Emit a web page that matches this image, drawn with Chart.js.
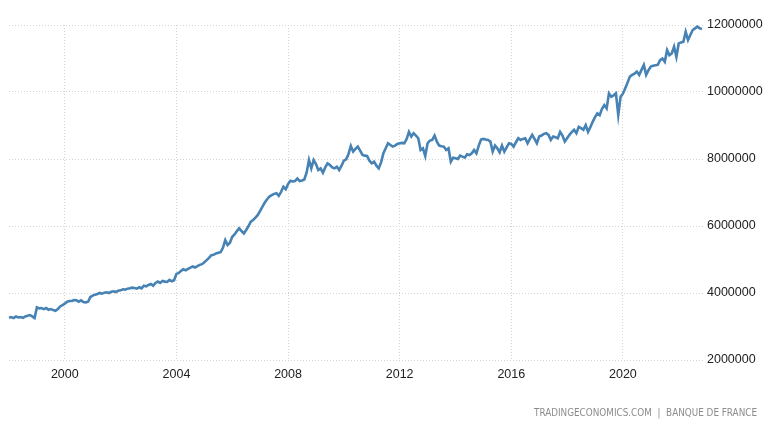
<!DOCTYPE html>
<html><head><meta charset="utf-8">
<script src="https://cdn.jsdelivr.net/npm/chart.js@4"></script>
<style>html,body{margin:0;padding:0;background:#fff}#wrap{width:768px;height:432px;position:relative}</style>
</head><body><div id="wrap"><canvas id="c" width="768" height="432"></canvas></div>
<script>
// Monthly values in millions, starting January 1998
const startYear = 1998;
const v1998 = [3.26,3.28,3.25,3.30,3.27,3.28,3.26,3.30,3.32,3.34,3.30,3.25];
const v1999 = [3.57,3.54,3.55,3.52,3.55,3.50,3.52,3.49,3.47,3.52,3.60,3.64];
const v2000 = [3.68,3.74,3.76,3.76,3.79,3.78,3.74,3.78,3.73,3.72,3.74,3.88];
const v2001 = [3.92,3.95,3.97,4.00,3.98,4.01,4.02,4.00,4.04,4.05,4.03,4.07];
const v2002 = [4.08,4.11,4.10,4.13,4.14,4.16,4.15,4.13,4.17,4.14,4.22,4.20];
const v2003 = [4.24,4.27,4.22,4.30,4.34,4.30,4.36,4.34,4.33,4.39,4.35,4.38];
const v2004 = [4.57,4.60,4.66,4.71,4.68,4.72,4.76,4.79,4.76,4.80,4.84,4.86];
const v2005 = [4.92,4.98,5.05,5.13,5.14,5.18,5.20,5.22,5.35,5.58,5.43,5.50];
const v2006 = [5.68,5.75,5.85,5.93,5.85,5.78,5.88,6.00,6.13,6.18,6.25,6.33];
const v2007 = [6.45,6.58,6.70,6.80,6.88,6.92,6.96,6.98,6.90,7.02,7.17,7.10];
const v2008 = [7.25,7.35,7.33,7.34,7.42,7.34,7.36,7.39,7.60,7.97,7.72,7.97];
const v2009 = [7.85,7.67,7.72,7.59,7.75,7.87,7.82,7.75,7.72,7.77,7.67,7.80];
const v2010 = [7.95,7.99,8.15,8.39,8.22,8.30,8.37,8.25,8.12,8.10,8.09,7.95];
const v2011 = [7.87,7.92,7.80,7.72,7.90,8.17,8.32,8.47,8.42,8.37,8.40,8.45];
const v2012 = [8.47,8.48,8.47,8.60,8.81,8.67,8.77,8.70,8.62,8.27,8.32,8.09];
const v2013 = [8.47,8.55,8.57,8.70,8.52,8.40,8.38,8.37,8.27,8.32,7.92,8.04];
const v2014 = [8.02,8.00,8.10,8.07,8.04,8.14,8.12,8.17,8.27,8.17,8.40,8.58];
const v2015 = [8.60,8.58,8.57,8.52,8.22,8.40,8.32,8.20,8.40,8.22,8.35,8.47];
const v2016 = [8.45,8.37,8.50,8.62,8.57,8.60,8.62,8.47,8.60,8.72,8.60,8.47];
const v2017 = [8.67,8.70,8.75,8.77,8.72,8.57,8.67,8.65,8.62,8.81,8.70,8.52];
const v2018 = [8.62,8.72,8.80,8.87,8.77,8.96,8.92,8.87,9.01,8.81,8.95,9.11];
const v2019 = [9.25,9.36,9.31,9.50,9.61,9.51,9.96,9.86,9.90,9.96,9.31,9.86];
const v2020 = [9.95,10.11,10.28,10.46,10.51,10.55,10.61,10.51,10.66,10.81,10.51,10.65];
const v2021 = [10.76,10.78,10.80,10.81,10.95,11.00,10.90,11.25,11.10,11.15,11.35,11.05];
const v2022 = [11.45,11.48,11.50,11.80,11.55,11.70,11.85,11.90,11.95,11.90,11.88];

const yearly = [v1998,v1999,v2000,v2001,v2002,v2003,v2004,v2005,v2006,v2007,v2008,v2009,v2010,
  v2011,v2012,v2013,v2014,v2015,v2016,v2017,v2018,v2019,v2020,v2021,v2022];

const xTicks = [2000, 2004, 2008, 2012, 2016, 2020];
const yTicks = [2, 4, 6, 8, 10, 12];
const yTickLabels = ['2000000','4000000','6000000','8000000','10000000','12000000'];
const sourceText = 'TRADINGECONOMICS.COM  |  BANQUE DE FRANCE';

const points = [];
yearly.forEach((arr, yi) => arr.forEach((v, m) => points.push({x: startYear + yi + m / 12, y: v})));

// font selection: prefer a narrow face; size chosen so "12000000" is ~55px wide
const probe = document.createElement('canvas').getContext('2d');
function hasFont(f) {
  const s = 'mmmmmWWWiii1234567890';
  probe.font = '40px monospace';
  const a = probe.measureText(s).width;
  probe.font = `40px "${f}", monospace`;
  return probe.measureText(s).width !== a;
}
const FAMILY = hasFont('Liberation Sans Narrow') ? 'Liberation Sans Narrow'
             : hasFont('Liberation Sans') ? 'Liberation Sans' : 'sans-serif';
probe.font = `100px "${FAMILY}"`;
const wPer100 = probe.measureText('12000000').width;
const FSIZE = Math.min(15, Math.round(55 / (wPer100 / 100) * 2) / 2);
const FONT = `"${FAMILY}", sans-serif`;

const sourcePlugin = {
  id: 'source',
  afterDraw(chart) {
    const ctx = chart.ctx;
    ctx.save();
    ctx.font = "11px 'DejaVu Sans Condensed', sans-serif";
    const w = ctx.measureText(sourceText).width;
    const target = 223;
    ctx.fillStyle = '#8c8c8c';
    ctx.textAlign = 'right';
    ctx.textBaseline = 'middle';
    ctx.translate(757, 413);
    ctx.scale(target / w, 1);
    ctx.fillText(sourceText, 0, 0);
    ctx.restore();
  }
};

new Chart(document.getElementById('c'), {
  type: 'line',
  data: { datasets: [{
    data: points,
    borderColor: '#4682b4',
    borderWidth: 2.6,
    pointRadius: 0,
    tension: 0,
    fill: false,
    clip: false
  }]},
  options: {
    responsive: false,
    animation: false,
    layout: { padding: { left: 9, top: 25, right: 0, bottom: 0 } },
    plugins: { legend: { display: false }, tooltip: { enabled: false } },
    scales: {
      x: {
        type: 'linear',
        min: 1998,
        max: 2022.87,
        afterBuildTicks: s => { s.ticks = xTicks.map(v => ({ value: v })); },
        afterFit: s => { s.height = 72; },
        ticks: { callback: v => String(v), color: '#222', padding: 7, font: { family: FONT, size: FSIZE }, maxRotation: 0, autoSkip: false },
        grid: { color: '#d4d4d4', lineWidth: 1, drawTicks: false },
        border: { display: false, dash: [1, 2] }
      },
      y: {
        position: 'right',
        min: 2,
        max: 12,
        afterBuildTicks: s => { s.ticks = yTicks.map(v => ({ value: v })); },
        afterFit: s => { s.width = 65; },
        ticks: { callback: v => yTickLabels[yTicks.indexOf(v)], color: '#222', padding: 4, font: { family: FONT, size: FSIZE } },
        grid: { color: '#d4d4d4', lineWidth: 1, drawTicks: false },
        border: { display: false, dash: [1, 2] }
      }
    }
  },
  plugins: [sourcePlugin]
});
</script>
</body></html>
